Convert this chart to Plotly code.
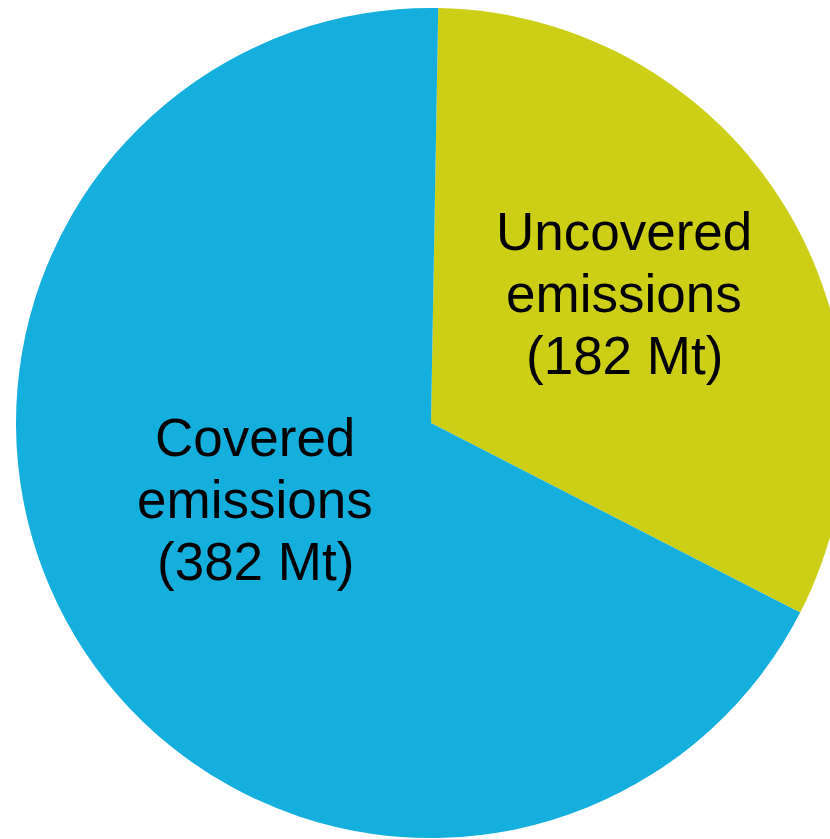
import plotly.graph_objects as go

labels = ["Uncovered emissions", "Covered emissions"]
values = [182, 382]
colors = ["#CCCF16", "#15AFDD"]
label_lines = [["Uncovered", "emissions", "(182 Mt)"], ["Covered", "emissions", "(382 Mt)"]]

W, H = 862, 839
cx, cy, r = 431, 423, 415

fig = go.Figure(go.Pie(
    labels=labels, values=values, sort=False, direction="clockwise", rotation=1,
    marker=dict(colors=colors, line=dict(width=0)),
    textinfo="none", hoverinfo="label+value", showlegend=False,
    domain=dict(x=[(cx - r) / W, (cx + r) / W], y=[(H - cy - r) / H, (H - cy + r) / H]),
))

# label block centres (pixels) and line spacing
centres = [(624, 231), (255, 437)]
spacing = 62
anns = []
for (px, py), lines in zip(centres, label_lines):
    for i, t in enumerate(lines):
        anns.append(dict(text=t, x=px / W, y=1 - (py + i * spacing) / H, xref="paper", yref="paper",
                         xanchor="center", yanchor="middle", showarrow=False,
                         font=dict(family="Liberation Sans, Arial, sans-serif", size=53, color="black")))

fig.update_layout(width=W, height=H, margin=dict(l=0, r=0, t=0, b=0),
                  paper_bgcolor="white", plot_bgcolor="white", annotations=anns)

fig.write_html("out.html", config={"displayModeBar": False},
               post_script="document.documentElement.style.overflow='hidden';document.body.style.overflow='hidden';document.body.style.margin='0';")
